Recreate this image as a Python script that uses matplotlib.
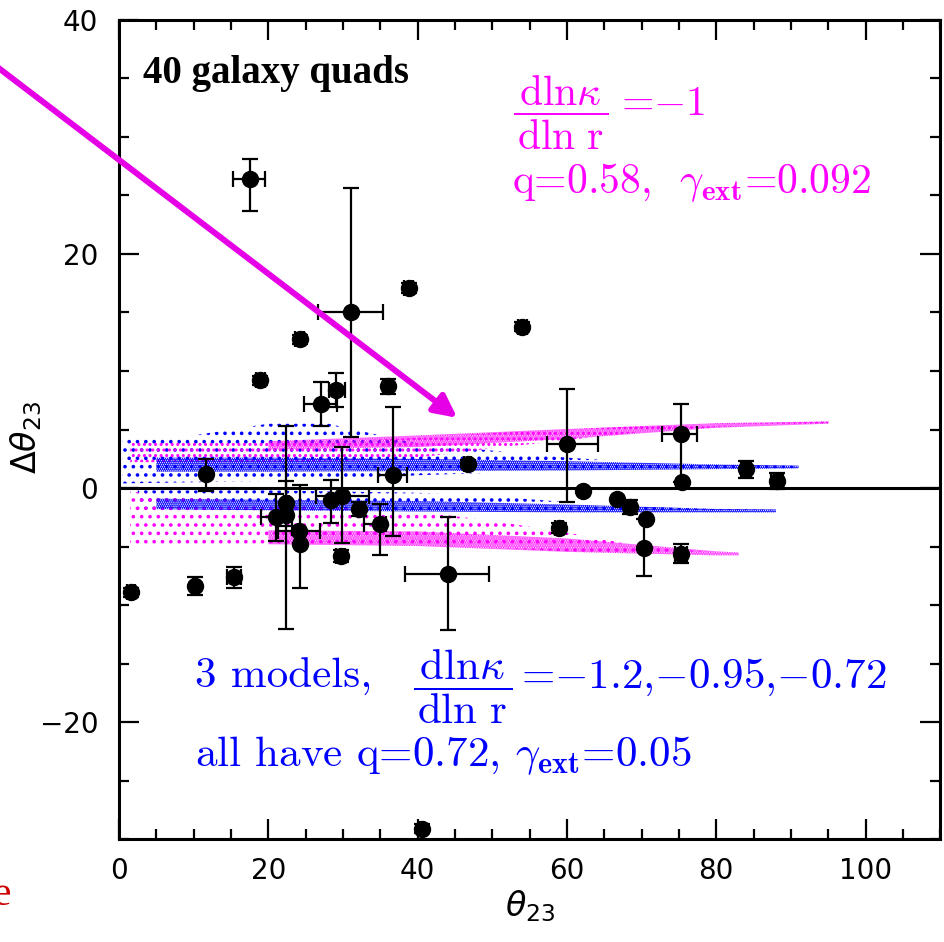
import matplotlib
matplotlib.use("Agg")
import matplotlib.pyplot as plt
from matplotlib.ticker import MultipleLocator

# measured galaxy quads: theta_23, delta theta_23 and asymmetric errors
theta = [17.5, 31.1, 38.8, 24.2, 18.9, 29.1, 27.0, 36.0, 11.6, 1.6, 10.2, 15.4,
         21.05, 22.4, 22.4, 24.1, 24.2, 36.7, 46.7, 44.1, 28.4, 29.9, 32.2, 34.9,
         29.7, 54.0, 60.0, 62.1, 75.3, 75.4, 66.7, 68.4, 70.6, 70.3, 75.3, 58.9,
         84.0, 88.1, 40.6]
dtheta = [26.4, 15.0, 17.1, 12.7, 9.2, 8.4, 7.2, 8.7, 1.2, -8.9, -8.35, -7.6,
          -2.5, -2.3, -1.3, -3.7, -4.8, 1.1, 2.1, -7.35, -1.0, -0.7, -1.75, -3.1,
          -5.8, 13.8, 3.75, -0.25, 4.65, 0.55, -0.95, -1.6, -2.65, -5.15, -5.6, -3.4,
          1.6, 0.6, -29.1]
theta_err_lo = [2.2, 4.4, 0.6, 0.6, 0.6, 1.0, 2.2, 0.6, 0.0, 0.6, 0.3, 0.9,
                2.1, 0.0, 0.3, 2.8, 0.0, 2.0, 0.5, 5.8, 0.3, 3.5, 0.3, 2.1,
                0.6, 0.6, 2.7, 0.0, 2.6, 0.0, 0.0, 0.8, 0.0, 0.0, 0.8, 0.5,
                0.7, 0.8, 0.3]
theta_err_hi = [2.1, 4.3, 0.6, 0.6, 0.6, 1.2, 2.2, 0.6, 0.0, 0.6, 0.3, 0.9,
                2.1, 0.0, 0.3, 2.8, 0.0, 1.9, 0.5, 5.5, 0.3, 3.6, 0.3, 0.8,
                0.6, 0.6, 4.2, 0.0, 2.1, 0.0, 0.0, 0.8, 0.0, 0.0, 0.8, 0.5,
                0.7, 0.8, 0.3]
dtheta_err_lo = [2.75, 10.6, 0.4, 0.4, 0.4, 1.5, 1.9, 0.7, 1.45, 0.4, 0.75, 0.9,
                 2.0, 9.7, 1.9, 0.3, 3.7, 5.2, 0.3, 4.75, 2.0, 4.0, 0.6, 2.6,
                 0.5, 0.4, 4.95, 0.0, 4.1, 0.0, 0.0, 0.6, 0.0, 2.35, 0.8, 0.4,
                 0.7, 0.7, 0.4]
dtheta_err_hi = [1.75, 10.6, 0.4, 0.4, 0.4, 1.4, 1.9, 0.6, 1.3, 0.4, 0.75, 0.9,
                 2.0, 7.6, 1.9, 0.3, 5.1, 5.85, 0.3, 4.85, 1.7, 4.2, 0.6, 1.7,
                 0.5, 0.4, 4.7, 0.0, 2.5, 0.0, 0.0, 0.6, 0.0, 2.5, 0.8, 0.4,
                 0.7, 0.7, 0.4]

# model clouds, read as envelopes (outer = sparse dots, core = dense dots)
mag_up_x = [1.5, 10, 20, 30, 40, 50, 60, 70, 80, 90, 95]
mag_up_hi = [3.9, 3.9, 3.9, 4.0, 4.3, 4.7, 5.0, 5.3, 5.5, 5.6, 5.68]
mag_up_lo = [2.2, 2.2, 2.2, 2.3, 2.6, 3.4, 4.1, 4.8, 5.2, 5.45, 5.52]
mag_up_core_x = [20, 40, 60, 80, 95]
mag_up_core_lo = [3.3, 3.5, 4.2, 5.15, 5.5]
mag_up_core_hi = [4.0, 4.5, 5.05, 5.55, 5.7]

mag_lo_x = [1.5, 10, 20, 30, 40, 50, 60, 70, 80, 83]
mag_lo_hi = [-0.3, -0.8, -1.3, -1.7, -2.0, -2.8, -3.8, -5.0, -5.5, -5.55]
mag_lo_lo = [-4.8, -4.8, -4.8, -4.8, -4.9, -5.1, -5.4, -5.65, -5.75, -5.75]
mag_lo_core_x = [20, 40, 60, 80, 83]
mag_lo_core_lo = [-4.8, -4.95, -5.45, -5.75, -5.75]
mag_lo_core_hi = [-3.6, -3.7, -4.3, -5.4, -5.5]

blue_up_x = [0.5, 10, 20, 28, 35, 40, 50, 60, 70, 80, 91]
blue_up_hi = [4.2, 4.5, 5.5, 5.5, 4.5, 3.8, 3.2, 2.6, 2.2, 2.0, 1.9]
blue_up_lo = [0.4, 0.5, 0.6, 0.7, 0.9, 1.1, 1.3, 1.45, 1.6, 1.65, 1.7]
blue_up_core_x = [5, 20, 40, 60, 80, 91]
blue_up_core_lo = [1.4, 1.4, 1.45, 1.5, 1.62, 1.68]
blue_up_core_hi = [2.6, 2.6, 2.5, 2.3, 2.02, 1.92]

blue_lo_x = [2.5, 10, 20, 30, 40, 50, 60, 70, 80, 88]
blue_lo_hi = [-0.2, -0.2, -0.2, -0.3, -0.4, -0.7, -1.2, -1.6, -1.8, -1.85]
blue_lo_lo = [-1.8, -1.9, -2.0, -2.1, -2.1, -2.1, -2.1, -2.05, -2.05, -2.05]
blue_lo_core_x = [5, 20, 40, 60, 80, 88]
blue_lo_core_lo = [-1.8, -1.9, -2.0, -2.08, -2.08, -2.08]
blue_lo_core_hi = [-0.9, -1.0, -1.1, -1.4, -1.78, -1.82]

x_ticks = [0, 20, 40, 60, 80, 100]
y_ticks = [-20, 0, 20, 40]

MAG = "#ff00ff"
BLUE = "#0000ff"

plt.rcParams["hatch.linewidth"] = 1.4

fig = plt.figure(figsize=(9.45, 9.42), dpi=100)
ax = fig.add_axes([0.126, 0.109, 0.869, 0.870])


def cloud(x, lo, hi, color, hatch):
    ax.fill_between(x, lo, hi, facecolor="none", edgecolor=color,
                    hatch=hatch, linewidth=0, zorder=1)


cloud(blue_up_x, blue_up_lo, blue_up_hi, BLUE, "..")
cloud(blue_lo_x, blue_lo_lo, blue_lo_hi, BLUE, "..")
cloud(mag_up_x, mag_up_lo, mag_up_hi, MAG, "...")
cloud(mag_lo_x, mag_lo_lo, mag_lo_hi, MAG, "..")
cloud(blue_up_core_x, blue_up_core_lo, blue_up_core_hi, BLUE, "........")
cloud(blue_lo_core_x, blue_lo_core_lo, blue_lo_core_hi, BLUE, "........")
cloud(mag_up_core_x, mag_up_core_lo, mag_up_core_hi, MAG, ".......")
cloud(mag_lo_core_x, mag_lo_core_lo, mag_lo_core_hi, MAG, ".......")

ax.axhline(0, color="black", lw=2.2, zorder=2)

ax.errorbar(theta, dtheta,
            xerr=[theta_err_lo, theta_err_hi],
            yerr=[dtheta_err_lo, dtheta_err_hi],
            fmt="o", ms=11.5, color="black", ecolor="black",
            elinewidth=1.6, capsize=5.5, capthick=1.6, zorder=3)

ax.set_xlim(0, 110)
ax.set_ylim(-30, 40)
ax.set_xticks(x_ticks)
ax.set_yticks(y_ticks)
ax.xaxis.set_minor_locator(MultipleLocator(5))
ax.yaxis.set_minor_locator(MultipleLocator(5))
ax.tick_params(which="both", direction="in", top=True, right=True, width=1.6)
ax.tick_params(which="major", length=14.5, labelsize=20)
ax.tick_params(which="minor", length=7.5)
ax.tick_params(axis="x", pad=13)
ax.tick_params(axis="y", pad=15)
for s in ax.spines.values():
    s.set_linewidth(2.2)

ax.set_xlabel(r"$\theta_{23}$", fontsize=24, labelpad=2)
ax.set_ylabel(r"$\Delta\theta_{23}$", fontsize=24)
ax.yaxis.set_label_coords(-0.092, 0.49)

ax.text(3.2, 34.6, "40 galaxy quads", family="Liberation Serif",
        fontweight="bold", fontsize=28, va="baseline", zorder=4)

frac = r"$\dfrac{\,\mathrm{dln}\kappa\,}{\mathrm{dln\ r}}$"
txt = dict(family="cmr10", math_fontfamily="cm", zorder=4)

# magenta model labels
ax.text(52.8, 32.04, frac, color=MAG, fontsize=30, va="center", **txt)
ax.text(67.3, 31.87, "=$-$1", color=MAG, fontsize=30, va="baseline", **txt)
ax.text(52.6, 25.2, r"q=0.58,  $\gamma_{\mathbf{ext}}$=0.092",
        color=MAG, fontsize=30, va="baseline", **txt)

# blue model labels
ax.text(10.18, -17.08, "3 models,", color=BLUE, fontsize=31, va="baseline", **txt)
ax.text(39.4, -16.99, frac, color=BLUE, fontsize=31, va="center", **txt)
ax.text(53.8, -17.08, "=$-$1.2,$-$0.95,$-$0.72", color=BLUE, fontsize=31,
        va="baseline", **txt)
ax.text(10.18, -23.7, r"all have q=0.72, $\gamma_{\mathbf{ext}}$=0.05",
        color=BLUE, fontsize=31, va="baseline", **txt)

ax.annotate("", xy=(45.3, 6.0), xytext=(-17.0, 36.3),
            arrowprops=dict(arrowstyle="-|>", color="#e600e6", lw=4.3,
                            mutation_scale=34, shrinkA=0, shrinkB=0),
            annotation_clip=False, zorder=5)

fig.text(0.011, 0.05, "e", color="#cc0000", fontsize=30,
         family="Liberation Serif", ha="right", va="center")

fig.savefig("out.png", dpi=100)
